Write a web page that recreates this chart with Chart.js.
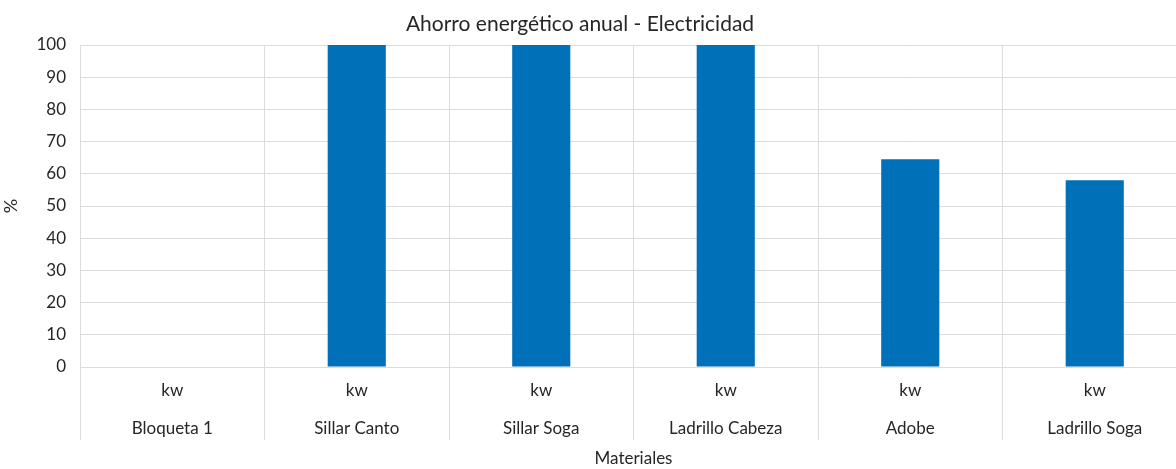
<!DOCTYPE html>
<html>
<head>
<meta charset="utf-8">
<script src="https://cdn.jsdelivr.net/npm/chart.js@4"></script>
<style>
  html, body { margin: 0; padding: 0; background: #fff; overflow: hidden; }
  #wrap { position: relative; width: 1188px; height: 469px; }
</style>
</head>
<body>
<div id="wrap"><canvas id="barChart"></canvas></div>
<script>
const materiales = ['Bloqueta 1', 'Sillar Canto', 'Sillar Soga', 'Ladrillo Cabeza', 'Adobe', 'Ladrillo Soga'];
const unidad = 'kw';
const ahorro = [0, 100, 100, 100, 64.5, 58];
const yTicks = [0, 10, 20, 30, 40, 50, 60, 70, 80, 90, 100];

const FONT = 'Lato, "Open Sans", sans-serif';
const TEXT = '#262626';
const GRID = '#dcdcdc';

// title drawn at its own spot (the original chart is cropped on the right)
const titlePlugin = {
    id: 'fixedTitle',
    afterDraw(chart) {
        const ctx = chart.ctx;
        ctx.save();
        ctx.font = '21px ' + FONT;
        ctx.fillStyle = TEXT;
        ctx.textAlign = 'center';
        ctx.textBaseline = 'middle';
        ctx.fillText('Ahorro energético anual - Electricidad', 580, 24);
        ctx.restore();
    }
};

document.addEventListener("DOMContentLoaded", function () {
    const ctx = document.getElementById("barChart").getContext("2d");

    new Chart(ctx, {
        type: 'bar',
        data: {
            labels: materiales.map(m => [unidad, m]),
            datasets: [{
                label: 'Ahorro',
                data: ahorro,
                backgroundColor: '#0070b8',
                borderWidth: 0,
                barPercentage: 1,
                categoryPercentage: 0.315
            }]
        },
        options: {
            responsive: true,
            maintainAspectRatio: false,
            animation: false,
            layout: { padding: { top: 45, right: 1, left: 0, bottom: 0 } },
            plugins: {
                legend: { display: false },
                title: { display: false },
                tooltip: { enabled: false }
            },
            scales: {
                x: {
                    grid: {
                        color: GRID,
                        lineWidth: 1,
                        offset: true,
                        drawTicks: true,
                        tickLength: 73,
                        tickColor: GRID
                    },
                    border: { color: GRID },
                    ticks: {
                        color: TEXT,
                        font: { family: FONT, size: 17, lineHeight: 2.25 },
                        padding: -69,
                        maxRotation: 0,
                        autoSkip: false
                    },
                    title: {
                        display: true,
                        text: 'Materiales',
                        color: TEXT,
                        font: { family: FONT, size: 17 },
                        padding: { top: 0, bottom: 0 }
                    },
                    afterFit(scale) { scale.height = 102; }
                },
                y: {
                    min: 0,
                    max: 100,
                    afterBuildTicks(scale) { scale.ticks = yTicks.map(v => ({ value: v })); },
                    grid: { color: GRID, drawTicks: false },
                    border: { display: false },
                    ticks: {
                        color: TEXT,
                        font: { family: FONT, size: 17 },
                        padding: 14
                    },
                    title: {
                        display: true,
                        text: '%',
                        color: TEXT,
                        font: { family: FONT, size: 18 },
                        padding: { top: 0, bottom: 0 }
                    },
                    afterFit(scale) { scale.width = 80; }
                }
            }
        },
        plugins: [titlePlugin]
    });
});
</script>
</body>
</html>
